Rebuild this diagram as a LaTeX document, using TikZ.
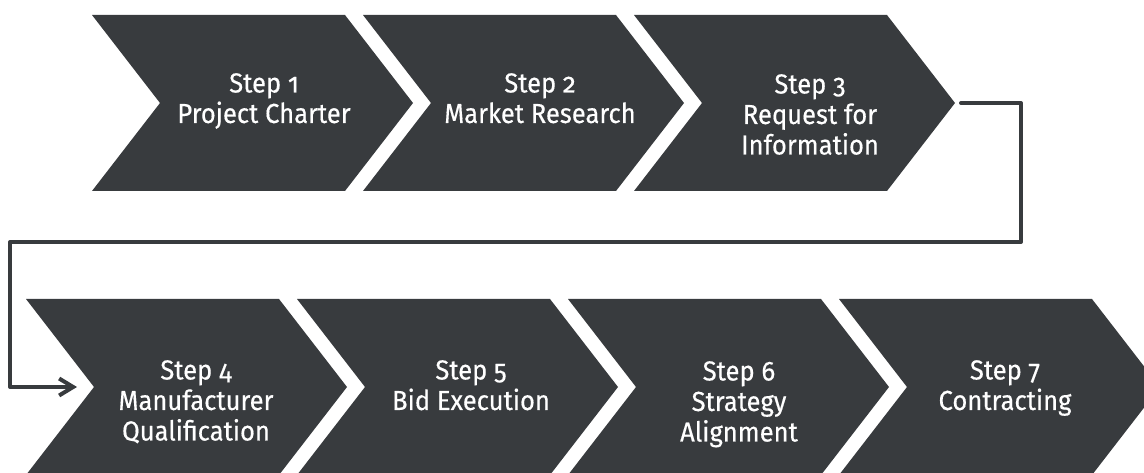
\documentclass[tikz,border=0pt]{standalone}
\usepackage{fontspec}
\setmainfont{Fira Sans}[Numbers=OldStyle, FakeBold=0.4, FakeStretch=0.93]
\usetikzlibrary{arrows.meta}
\definecolor{slate}{HTML}{383B3E}
\begin{document}
\begin{tikzpicture}[x=1pt,y=-1pt,
  chevfill/.style={fill=slate},
  steptext/.style={text=white, align=center, anchor=north, inner sep=0pt,
    font=\fontsize{27.5}{30.5}\selectfont},
  conn/.style={draw=slate, line width=4pt, line cap=round, line join=round,
    -{Straight Barb[length=14pt,width=17pt]}},
  chevron/.pic={
    \fill[chevfill] (0,-88) -- (253,-88) -- (321,0) -- (253,88) -- (0,88) -- (68,0) -- cycle;
    \coordinate (-tip) at (321,0);
    \coordinate (-notch) at (68,0);
  }]
\useasboundingbox (0,0) rectangle (1144,473);
\clip (0,0) rectangle (1144,473);

% upper row
\pic (c1) at (92,103) {chevron};
\pic (c2) at (363,103) {chevron};
\pic (c3) at (634,103) {chevron};
% lower row
\pic (c4) at (26,387) {chevron};
\pic (c5) at (297,387) {chevron};
\pic (c6) at (568,387) {chevron};
\pic (c7) at (839,387) {chevron};

% labels
\node[steptext] (t1) at (264,73) {Step 1\\Project Charter};
\node[steptext] (t2) at (540,73) {Step 2\\Market Research};
\node[steptext] (t3) at (810,74) {Step 3\\Request for\\Information};
\node[steptext] (t4) at (196,360) {Step 4\\Manufacturer\\Qualification};
\node[steptext] (t5) at (471,360) {Step 5\\Bid Execution};
\node[steptext] (t6) at (739,361) {Step 6\\Strategy\\Alignment};
\node[steptext] (t7) at (1005,360) {Step 7\\Contracting};

% link from the upper row to the lower row
\coordinate (bend1) at (1021,242);
\coordinate (bend2) at (10,387);
\draw[conn] ([xshift=6pt]c3-tip) -| (bend1) -| (bend2) -- ([xshift=-17pt]c4-notch);
\end{tikzpicture}
\end{document}
